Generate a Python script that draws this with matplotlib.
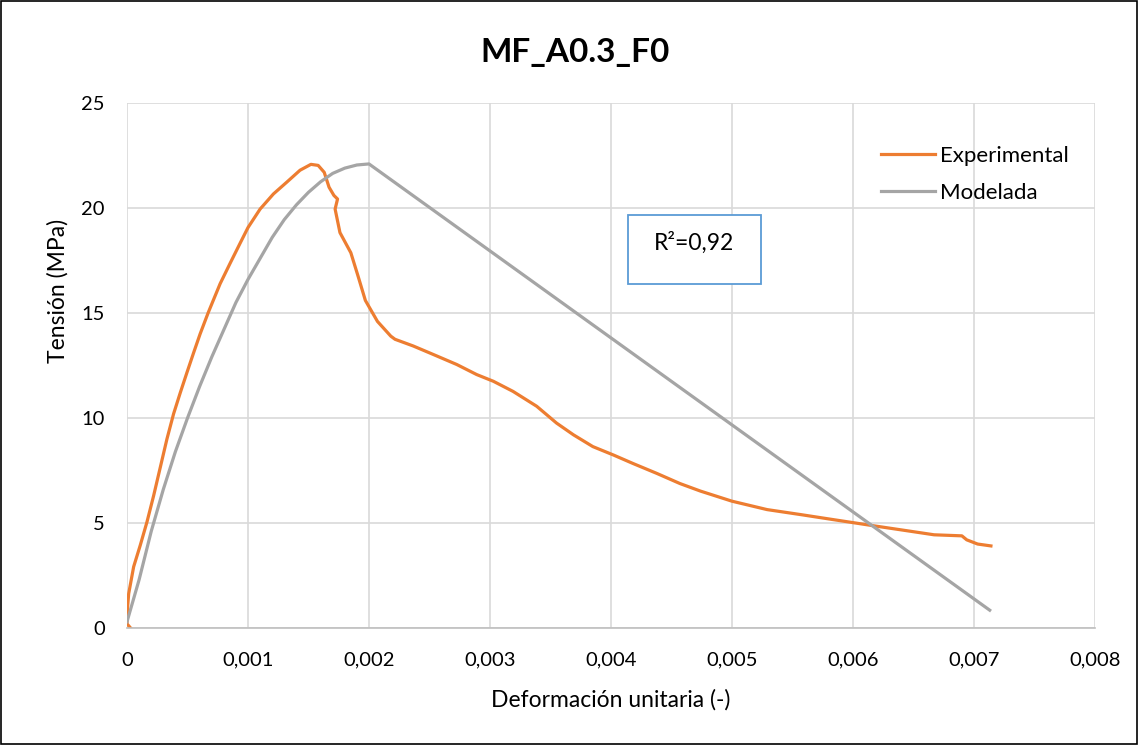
import matplotlib
matplotlib.use("Agg")
import matplotlib.pyplot as plt
from matplotlib.patches import Rectangle
from matplotlib.ticker import FuncFormatter

plt.rcParams['font.family'] = ['Lato', 'DejaVu Sans']

# datos experimentales (deformacion, tension MPa)
exp_x = [0.00003, 0.0, 0.000005, 0.000014, 0.000055, 0.00011, 0.000165, 0.00022,
         0.000275, 0.00033, 0.000385, 0.00044, 0.000495, 0.00055, 0.000604, 0.00067,
         0.000702, 0.00077, 0.000854, 0.000937, 0.001, 0.0011, 0.00121, 0.00132,
         0.00143, 0.00152, 0.00158, 0.00163, 0.00167, 0.00171, 0.00174, 0.00172,
         0.00176, 0.00185, 0.00191, 0.00197, 0.00207, 0.00218, 0.002215, 0.002366,
         0.00253, 0.002725, 0.00289, 0.003028, 0.00319, 0.003386, 0.00355, 0.00369,
         0.00385, 0.00402, 0.00418, 0.00438, 0.00457, 0.00474, 0.005, 0.00529,
         0.00557, 0.00584, 0.00617, 0.00645, 0.00667, 0.0069, 0.00694, 0.00703,
         0.00714]
exp_y = [0.0, 0.2, 1.0, 1.64, 2.92, 3.95, 5.05, 6.3,
         7.65, 9.0, 10.2, 11.2, 12.16, 13.1, 14.0, 15.0,
         15.45, 16.4, 17.39, 18.35, 19.07, 19.95, 20.67, 21.23,
         21.8, 22.08, 22.03, 21.7, 20.99, 20.6, 20.43, 19.95,
         18.83, 17.87, 16.75, 15.6, 14.6, 13.9, 13.75, 13.43,
         13.03, 12.55, 12.07, 11.75, 11.27, 10.56, 9.76, 9.2,
         8.64, 8.24, 7.84, 7.36, 6.88, 6.52, 6.04, 5.64,
         5.4, 5.16, 4.87, 4.63, 4.44, 4.39, 4.2, 4.0,
         3.91]

# curva modelada
mod_x = [0.0, 0.0001, 0.0002, 0.0003, 0.0004, 0.0005, 0.0006, 0.0007, 0.0008, 0.0009,
         0.001, 0.0011, 0.0012, 0.0013, 0.0014, 0.0015, 0.0016, 0.0017, 0.0018, 0.0019,
         0.002, 0.00713]
mod_y = [0.3, 2.3, 4.6, 6.6, 8.4, 10.0, 11.5, 12.9, 14.2, 15.5,
         16.6, 17.6, 18.6, 19.45, 20.15, 20.75, 21.25, 21.65, 21.9, 22.05,
         22.1, 0.85]

fig = plt.figure(figsize=(11.38, 7.45), dpi=100)
ax = fig.add_axes([0.1116, 0.157, 0.8506, 0.7047])

ax.plot(exp_x, exp_y, color='#ED7D31', lw=2.3, label='Experimental', solid_joinstyle='round')
ax.plot(mod_x, mod_y, color='#A5A5A5', lw=2.3, label='Modelada')

ax.set_xlim(0, 0.008)
ax.set_ylim(0, 25)
ax.set_xticks([i * 0.001 for i in range(9)])
ax.set_yticks([0, 5, 10, 15, 20, 25])
ax.xaxis.set_major_formatter(FuncFormatter(lambda v, p: '0' if v == 0 else ('%.3f' % v).replace('.', ',')))
ax.grid(True, color='#D9D9D9', lw=1.2)
ax.set_axisbelow(True)
ax.tick_params(length=0, labelsize=14.5)
ax.tick_params(axis='x', pad=17)
ax.tick_params(axis='y', pad=16)
for s in ['top', 'right', 'left']:
    ax.spines[s].set_visible(False)
ax.spines['bottom'].set_color('#BFBFBF')
ax.spines['bottom'].set_linewidth(1.2)

ax.set_xlabel('Deformación unitaria (-)', fontsize=16.5)
ax.xaxis.set_label_coords(0.537, 0.06, transform=fig.transFigure)
ax.xaxis.label.set_verticalalignment('center')
ax.set_ylabel('Tensión (MPa)', fontsize=16.5)
ax.yaxis.set_label_coords(0.051, 0.61, transform=fig.transFigure)
ax.yaxis.label.set_verticalalignment('center')
fig.text(0.505, 0.929, 'MF_A0.3_F0', fontsize=24, fontweight='bold', ha='center', va='center')

leg = ax.legend(loc='upper left', bbox_to_anchor=(0.77, 0.935), frameon=False, fontsize=16,
                handlelength=2.4, handletextpad=0.25, labelspacing=0.75, borderaxespad=0)

ax.add_patch(Rectangle((0.00414, 16.38), 0.0011, 3.29, fill=True, facecolor='white',
                       edgecolor='#5B9BD5', lw=1.3, zorder=5))
ax.text(0.00469, 18.33, 'R²=0,92', fontsize=16.5, ha='center', va='center', zorder=6)

fig.add_artist(Rectangle((0.001, 0.001), 0.998, 0.998, transform=fig.transFigure,
                         fill=False, edgecolor='black', lw=1.2))

fig.savefig('out.png', dpi=100)
